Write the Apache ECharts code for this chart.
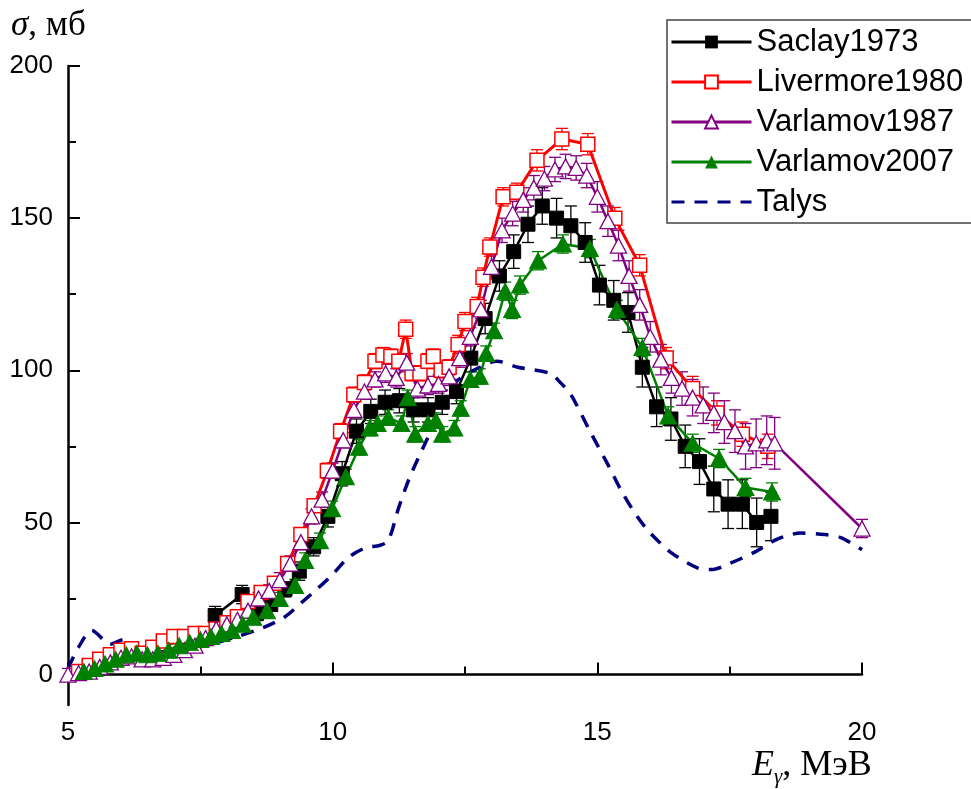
<!DOCTYPE html>
<html><head><meta charset="utf-8">
<script src="https://cdn.jsdelivr.net/npm/echarts@6/dist/echarts.min.js"></script>
<style>html,body{margin:0;padding:0;background:#fff}#c{width:971px;height:789px}</style>
</head><body><div id="c"></div>
<script>
// ---------- data ----------
const seriesNames = ['Saclay1973', 'Livermore1980', 'Varlamov1987', 'Varlamov2007', 'Talys'];
const xTicks = [5, 10, 15, 20];
const yTicks = [0, 50, 100, 150, 200];
const yMinorTicks = [25, 75, 125, 175];

const saclayE = [7.78, 8.29, 8.56, 8.83, 9.1, 9.37, 9.64, 9.91, 10.18, 10.45, 10.72, 10.99, 11.26, 11.53, 11.8, 12.07, 12.34, 12.61, 12.88, 13.15, 13.42, 13.69, 13.96, 14.23, 14.5, 14.77, 15.04, 15.31, 15.58, 15.85, 16.12, 16.39, 16.66, 16.93, 17.2, 17.47, 17.74, 18.01, 18.28];
const saclayS = [19.4, 26.3, 20, 23, 28, 34, 42, 52, 66, 80, 86.5, 89.5, 90, 87, 87, 89.5, 93, 104, 117, 131, 139, 148, 154, 150, 147.5, 142, 128, 123, 119, 101, 88, 84, 75, 70, 61, 56, 56, 50, 52];
const saclayErr = [3, 3, 2, 2, 2.5, 3, 3, 3.5, 4, 4, 4, 4, 4, 4, 4, 4, 4, 4.5, 5, 5, 5.5, 6, 6, 6.5, 6.5, 6.5, 6.5, 6.5, 6.5, 6.5, 6.5, 7, 7, 7.5, 7.5, 8, 8, 8, 8];

const livE = [5.2, 5.4, 5.6, 5.8, 6.0, 6.2, 6.4, 6.6, 6.8, 7.0, 7.2, 7.4, 7.6, 7.8, 8.0, 8.2, 8.4, 8.65, 8.9, 9.15, 9.4, 9.65, 9.9, 10.15, 10.4, 10.6, 10.8, 10.95, 11.1, 11.25, 11.38, 11.5, 11.65, 11.8, 11.9, 12.05, 12.2, 12.37, 12.5, 12.73, 12.84, 12.97, 13.22, 13.48, 13.86, 14.33, 14.82, 15.33, 15.8, 16.3, 16.8, 17.26, 17.74, 18.22];
const livS = [1, 3, 5, 6.5, 8, 8.5, 7, 9, 11, 12.5, 12.5, 13.5, 13.5, 15, 17, 19, 24, 27, 30, 36.5, 46, 55.5, 67, 80, 92, 96, 103, 105, 104.5, 103, 113.5, 99, 99, 103, 104.5, 100, 101, 108.5, 116, 121, 130.6, 140.5, 157, 158.5, 169, 176, 174.3, 150, 134.5, 104, 94, 86, 79, 75];
const livErr = [1.5, 1.5, 1.5, 1.5, 1.5, 1.5, 1.5, 1.5, 1.5, 1.5, 1.5, 1.5, 1.5, 1.5, 1.5, 2, 2, 2, 2, 2, 2, 2, 2.5, 2.5, 2.5, 2.5, 2.5, 2.5, 2.5, 2.5, 3, 2.5, 2.5, 2.5, 2.5, 2.5, 2.5, 3, 3, 3, 3, 3, 3, 3, 3.5, 3.5, 3.5, 3.5, 3.5, 3.5, 4, 4, 4, 4];

const v87E = [5.0, 5.2, 5.4, 5.6, 5.8, 6.0, 6.2, 6.4, 6.6, 6.8, 7.0, 7.2, 7.4, 7.6, 7.8, 8.0, 8.2, 8.4, 8.6, 8.8, 9.0, 9.2, 9.4, 9.6, 9.8, 10.0, 10.2, 10.4, 10.6, 10.8, 11.0, 11.2, 11.4, 11.6, 11.8, 12.0, 12.2, 12.4, 12.6, 12.8, 13.0, 13.2, 13.4, 13.6, 13.8, 14.0, 14.2, 14.4, 14.6, 14.8, 15.0, 15.2, 15.4, 15.6, 15.8, 16.0, 16.2, 16.4, 16.6, 16.8, 17.0, 17.2, 17.4, 17.6, 17.8, 18.0, 18.2, 18.35, 20.0];
const v87S = [0, 0.5, 1, 2.5, 4, 5.5, 6, 5, 5, 5.5, 6.5, 8, 9.5, 12, 15, 16.5, 18, 21, 25, 27.5, 31, 36.5, 43.5, 52, 57.5, 67, 77, 87, 93, 97, 99, 97.5, 102.5, 94, 95, 95.5, 98, 104, 111, 120, 134, 146, 151.5, 156, 160, 163, 166, 167, 166.5, 164, 157, 149, 141, 131, 121.5, 111, 103.5, 97.5, 94, 91, 88.5, 86, 83, 80, 75, 76, 77, 76, 48];
const v87Err = [2, 2, 2, 2, 2, 2, 2, 2, 2, 2, 2, 2, 2, 2, 2, 2, 2, 2, 2, 2, 2.5, 2.5, 2.5, 2.5, 2.5, 2.5, 2.5, 2.5, 2.5, 2.5, 3, 3, 3, 3, 3, 3, 3, 3, 3, 3, 4, 4, 4, 4, 4, 4, 4, 4, 4, 4, 5, 5, 5, 5, 5, 5, 5, 5, 5.5, 6, 6, 6.5, 7, 7, 7.5, 8, 8, 8.5, 3];

const v07E = [5.3, 5.5, 5.7, 5.9, 6.1, 6.3, 6.5, 6.7, 6.9, 7.1, 7.3, 7.5, 7.7, 7.9, 8.1, 8.3, 8.5, 8.76, 9.0, 9.29, 9.48, 9.76, 9.99, 10.25, 10.5, 10.7, 10.85, 11.05, 11.3, 11.42, 11.56, 11.8, 11.95, 12.07, 12.3, 12.42, 12.6, 12.78, 12.9, 13.05, 13.26, 13.39, 13.54, 13.88, 14.35, 14.86, 15.37, 15.85, 16.34, 16.8, 17.3, 17.8, 18.3];
const v07S = [1, 2, 3.5, 5, 6.5, 7, 6.5, 7, 8, 9.5, 10.5, 11.5, 12.5, 13.5, 14.5, 16.5, 18.8, 21, 25, 29.3, 37.5, 44, 54.5, 65, 74.7, 81, 82.5, 84.5, 82.5, 91, 79, 82.5, 83.5, 79, 81, 87.5, 97, 98, 105.5, 113, 126, 120, 128, 136, 141.5, 140, 120, 107.5, 85, 76, 71, 61.5, 60];
const v07Err = [2, 2, 2, 2, 2, 2, 2, 2, 2, 2, 2, 2, 2, 2, 2, 2, 2, 2, 2, 2, 2.5, 2.5, 2.5, 2.5, 2.5, 2.5, 2.5, 2.5, 2.5, 2.5, 2.5, 2.5, 2.5, 2.5, 2.5, 2.5, 2.5, 2.5, 2.5, 2.5, 3, 3, 3, 3, 3, 3, 3, 3, 3, 3, 3, 3, 3];

const talysE = [5.0, 5.2, 5.45, 5.8, 6.05, 6.3, 6.7, 7.2, 7.7, 8.2, 8.7, 9.1, 9.4, 9.7, 10.0, 10.3, 10.6, 10.9, 11.05, 11.25, 11.46, 11.8, 12.08, 12.35, 12.78, 13.1, 13.5, 14.1, 14.3, 14.5, 14.86, 15.2, 15.45, 15.75, 16.0, 16.4, 16.9, 17.15, 17.5, 18.0, 18.4, 18.85, 19.3, 19.6, 20.0];
const talysS = [2, 9, 14.5, 10, 11.5, 8, 7.5, 8, 10, 12.5, 15.5, 19, 23.5, 28, 33, 38.5, 41.5, 42.5, 44, 55, 65, 78, 89, 96.5, 101, 103, 101, 99, 96, 92, 80, 69, 60.5, 52, 46.5, 40, 35, 34.5, 36.5, 40.5, 44.5, 46.5, 46, 45, 41];

// ---------- helpers ----------
const pairs = (xs, ys) => xs.map((x, i) => [x, ys[i]]);
const triples = (xs, ys, es) => xs.map((x, i) => [x, ys[i], es[i]]);

function errSeries(data, color) {
  return {
    type: 'custom', data: data, encode: { x: 0, y: 1 }, silent: true,
    renderItem: function (params, api) {
      const x = api.value(0), y = api.value(1), e = api.value(2);
      const t = api.coord([x, y + e]);
      const b = api.coord([x, y - e]);
      const cap = 6;
      const st = { stroke: color, lineWidth: 1.3 };
      return {
        type: 'group', children: [
          { type: 'line', shape: { x1: t[0], y1: t[1], x2: b[0], y2: b[1] }, style: st },
          { type: 'line', shape: { x1: t[0] - cap, y1: t[1], x2: t[0] + cap, y2: t[1] }, style: st },
          { type: 'line', shape: { x1: b[0] - cap, y1: b[1], x2: b[0] + cap, y2: b[1] }, style: st }
        ]
      };
    }
  };
}

const chart = echarts.init(document.getElementById('c'), null, { renderer: 'canvas' });
const sans = 'Liberation Sans, Arial, sans-serif';
const serif = 'Liberation Serif, Times New Roman, serif';

chart.setOption({
  animation: false,
  backgroundColor: '#fff',
  grid: { left: 68, right: 109, top: 66, bottom: 84, containLabel: false },
  xAxis: {
    type: 'value', min: 5, max: 20, interval: 5,
    axisLine: { show: true, lineStyle: { color: '#000', width: 2.5 } },
    axisTick: { show: true, inside: true, length: 12, lineStyle: { color: '#000', width: 2 } },
    minorTick: { show: true, splitNumber: 2, length: 8, lineStyle: { color: '#000', width: 2 } },
    axisLabel: { color: '#000', fontFamily: sans, fontSize: 26, margin: 15, customValues: xTicks },
    splitLine: { show: false }
  },
  yAxis: [{
    type: 'value', min: -10, max: 200,
    axisLine: { show: true, onZero: false, lineStyle: { color: '#000', width: 2.5 } },
    axisTick: { show: true, inside: true, length: 12, lineStyle: { color: '#000', width: 2 }, customValues: yTicks },
    axisLabel: { color: '#000', fontFamily: sans, fontSize: 26, margin: 15, customValues: yTicks },
    splitLine: { show: false }
  }, {
    type: 'value', min: -10, max: 200, position: 'left',
    axisLine: { show: false },
    axisTick: { show: true, inside: true, length: 8, lineStyle: { color: '#000', width: 2 }, customValues: yMinorTicks },
    axisLabel: { show: false },
    splitLine: { show: false }
  }],
  legend: {
    data: seriesNames,
    orient: 'vertical', left: 667, top: 20,
    padding: [4, 12, 3, 3],
    itemWidth: 80, itemHeight: 16, itemGap: 4,
    borderColor: '#444', borderWidth: 1.5,
    lineStyle: { width: 3 },
    textStyle: { fontFamily: sans, fontSize: 31, color: '#000', lineHeight: 36 }
  },
  graphic: [
    {
      type: 'text', left: 11, top: 8,
      style: {
        text: '{s|σ}{t|, мб}',
        rich: {
          s: { fontFamily: serif, fontStyle: 'italic', fontSize: 35, fill: '#000' },
          t: { fontFamily: serif, fontSize: 35, fill: '#000' }
        }
      }
    },
    {
      type: 'text', left: 752, top: 748,
      style: {
        text: '{e|E}{g|γ}{t|, МэВ}',
        rich: {
          e: { fontFamily: serif, fontStyle: 'italic', fontSize: 36, fill: '#000', verticalAlign: 'bottom', lineHeight: 38 },
          g: { fontFamily: serif, fontStyle: 'italic', fontSize: 21, fill: '#000', verticalAlign: 'bottom', lineHeight: 21, padding: [0, 0, -4, 0] },
          t: { fontFamily: serif, fontSize: 36, fill: '#000', verticalAlign: 'bottom', lineHeight: 38 }
        }
      }
    }
  ],
  series: [
    errSeries(triples(saclayE, saclayS, saclayErr), '#000'),
    {
      name: 'Saclay1973', type: 'line', data: pairs(saclayE, saclayS),
      symbol: 'rect', symbolSize: 14,
      lineStyle: { color: '#000', width: 2.5 },
      itemStyle: { color: '#000', borderColor: '#000' }
    },
    errSeries(triples(livE, livS, livErr), '#ff0000'),
    {
      name: 'Livermore1980', type: 'line', data: pairs(livE, livS),
      symbol: 'rect', symbolSize: 14,
      lineStyle: { color: '#ff0000', width: 3 },
      itemStyle: { color: '#fff', borderColor: '#ff0000', borderWidth: 1.5 }
    },
    errSeries(triples(v87E, v87S, v87Err), '#800080'),
    {
      name: 'Varlamov1987', type: 'line', data: pairs(v87E, v87S),
      symbol: 'triangle', symbolSize: [16, 15],
      lineStyle: { color: '#800080', width: 2.5 },
      itemStyle: { color: '#fff', borderColor: '#800080', borderWidth: 1.3 }
    },
    errSeries(triples(v07E, v07S, v07Err), '#008000'),
    {
      name: 'Varlamov2007', type: 'line', data: pairs(v07E, v07S),
      symbol: 'triangle', symbolSize: [17, 16],
      lineStyle: { color: '#008000', width: 2.5 },
      itemStyle: { color: '#008000', borderColor: '#008000' }
    },
    {
      name: 'Talys', type: 'line', data: pairs(talysE, talysS),
      symbol: 'none', smooth: 0.3,
      lineStyle: { color: '#000080', width: 3.5, type: [13, 10] },
      itemStyle: { color: 'rgba(0,0,0,0)', borderWidth: 0 }
    }
  ]
});
</script>
</body></html>
